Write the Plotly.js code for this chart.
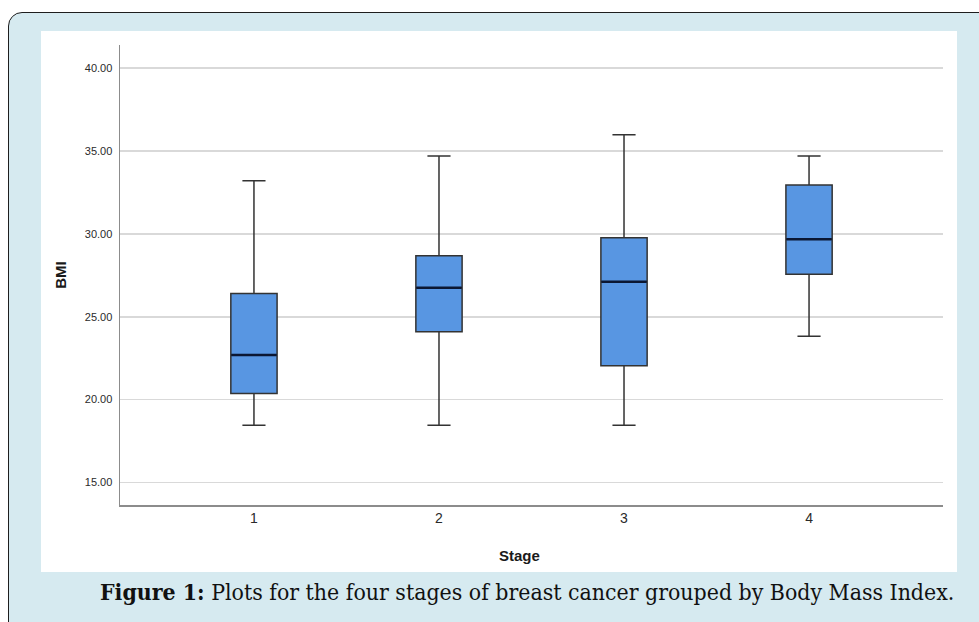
<!DOCTYPE html>
<html>
<head>
<meta charset="utf-8">
<script src="https://cdn.plot.ly/plotly-3.0.1.min.js"></script>
<style>
  html, body { margin: 0; padding: 0; width: 979px; height: 622px; overflow: hidden; background: #ffffff; }
  #frame { position: absolute; left: 8px; top: 12px; width: 1000px; height: 640px;
           border: 1.5px solid #1e1e1e; border-radius: 14px; background: #d6eaf0; box-sizing: border-box; }
  #chart { position: absolute; left: 41px; top: 31px; width: 916px; height: 541px; background: #ffffff; }
  #caption { position: absolute; left: 100px; top: 579px; font-family: "DejaVu Serif Condensed", "DejaVu Serif", serif;
             font-size: 22.85px; color: #111; white-space: nowrap; }
</style>
</head>
<body>
<div id="frame"></div>
<div id="chart"></div>
<div id="caption"><b>Figure 1:</b> Plots for the four stages of breast cancer grouped by Body Mass Index.</div>
<script>
const stages = ["1", "2", "3", "4"];
const lowerWhisker = [18.46, 18.46, 18.46, 23.83];
const q1Values = [20.37, 24.09, 22.04, 27.56];
const medianValues = [22.69, 26.75, 27.11, 29.67];
const q3Values = [26.41, 28.68, 29.77, 32.95];
const upperWhisker = [33.21, 34.70, 35.99, 34.70];
const yTicks = [15, 20, 25, 30, 35, 40];
const yTickLabels = ["15.00", "20.00", "25.00", "30.00", "35.00", "40.00"];

const boxTrace = {
  type: "box",
  x: stages,
  q1: q1Values,
  median: medianValues,
  q3: q3Values,
  lowerfence: lowerWhisker,
  upperfence: upperWhisker,
  fillcolor: "#5896e2",
  line: { color: "#333333", width: 1.5 },
  whiskerwidth: 0.5,
  width: 0.25,
  boxpoints: false,
  hoverinfo: "skip",
  showlegend: false
};

const medianTrace = {
  type: "box",
  x: stages,
  q1: medianValues,
  median: medianValues,
  q3: medianValues,
  lowerfence: medianValues,
  upperfence: medianValues,
  fillcolor: "rgba(0,0,0,0)",
  line: { color: "#0b1733", width: 2.5 },
  whiskerwidth: 0,
  width: 0.245,
  boxpoints: false,
  hoverinfo: "skip",
  showlegend: false
};

const layout = {
  width: 916,
  height: 541,
  margin: { l: 79, r: 14, t: 14, b: 67 },
  paper_bgcolor: "#ffffff",
  plot_bgcolor: "#ffffff",
  boxmode: "overlay",
  font: { family: "Liberation Sans, Arial, sans-serif", color: "#333333" },
  xaxis: {
    type: "category",
    range: [-0.724, 3.724],
    showgrid: false,
    zeroline: false,
    showline: true,
    linecolor: "#8c8c8c",
    linewidth: 1.5,
    ticks: "",
    tickfont: { size: 14, color: "#2a2a2a" },
    title: { text: "" }
  },
  yaxis: {
    range: [13.64, 41.4],
    tickvals: yTicks,
    ticktext: yTickLabels,
    showgrid: true,
    gridcolor: "#d9d9d9",
    gridwidth: 1.5,
    zeroline: false,
    showline: true,
    linecolor: "#8c8c8c",
    linewidth: 1.5,
    ticks: "",
    ticklabelstandoff: 4,
    tickfont: { size: 11, color: "#2a2a2a" },
    title: { text: "<b>BMI</b>", font: { size: 15, color: "#1a1a1a" }, standoff: 14 }
  },
  annotations: [{
    text: "<b>Stage</b>",
    xref: "paper", yref: "paper",
    x: 0.485, y: 0, yshift: -50,
    xanchor: "center", yanchor: "middle",
    showarrow: false,
    font: { size: 15, color: "#1a1a1a" }
  }]
};

Plotly.newPlot("chart", [boxTrace, medianTrace], layout, { displayModeBar: false, staticPlot: true });
</script>
</body>
</html>
